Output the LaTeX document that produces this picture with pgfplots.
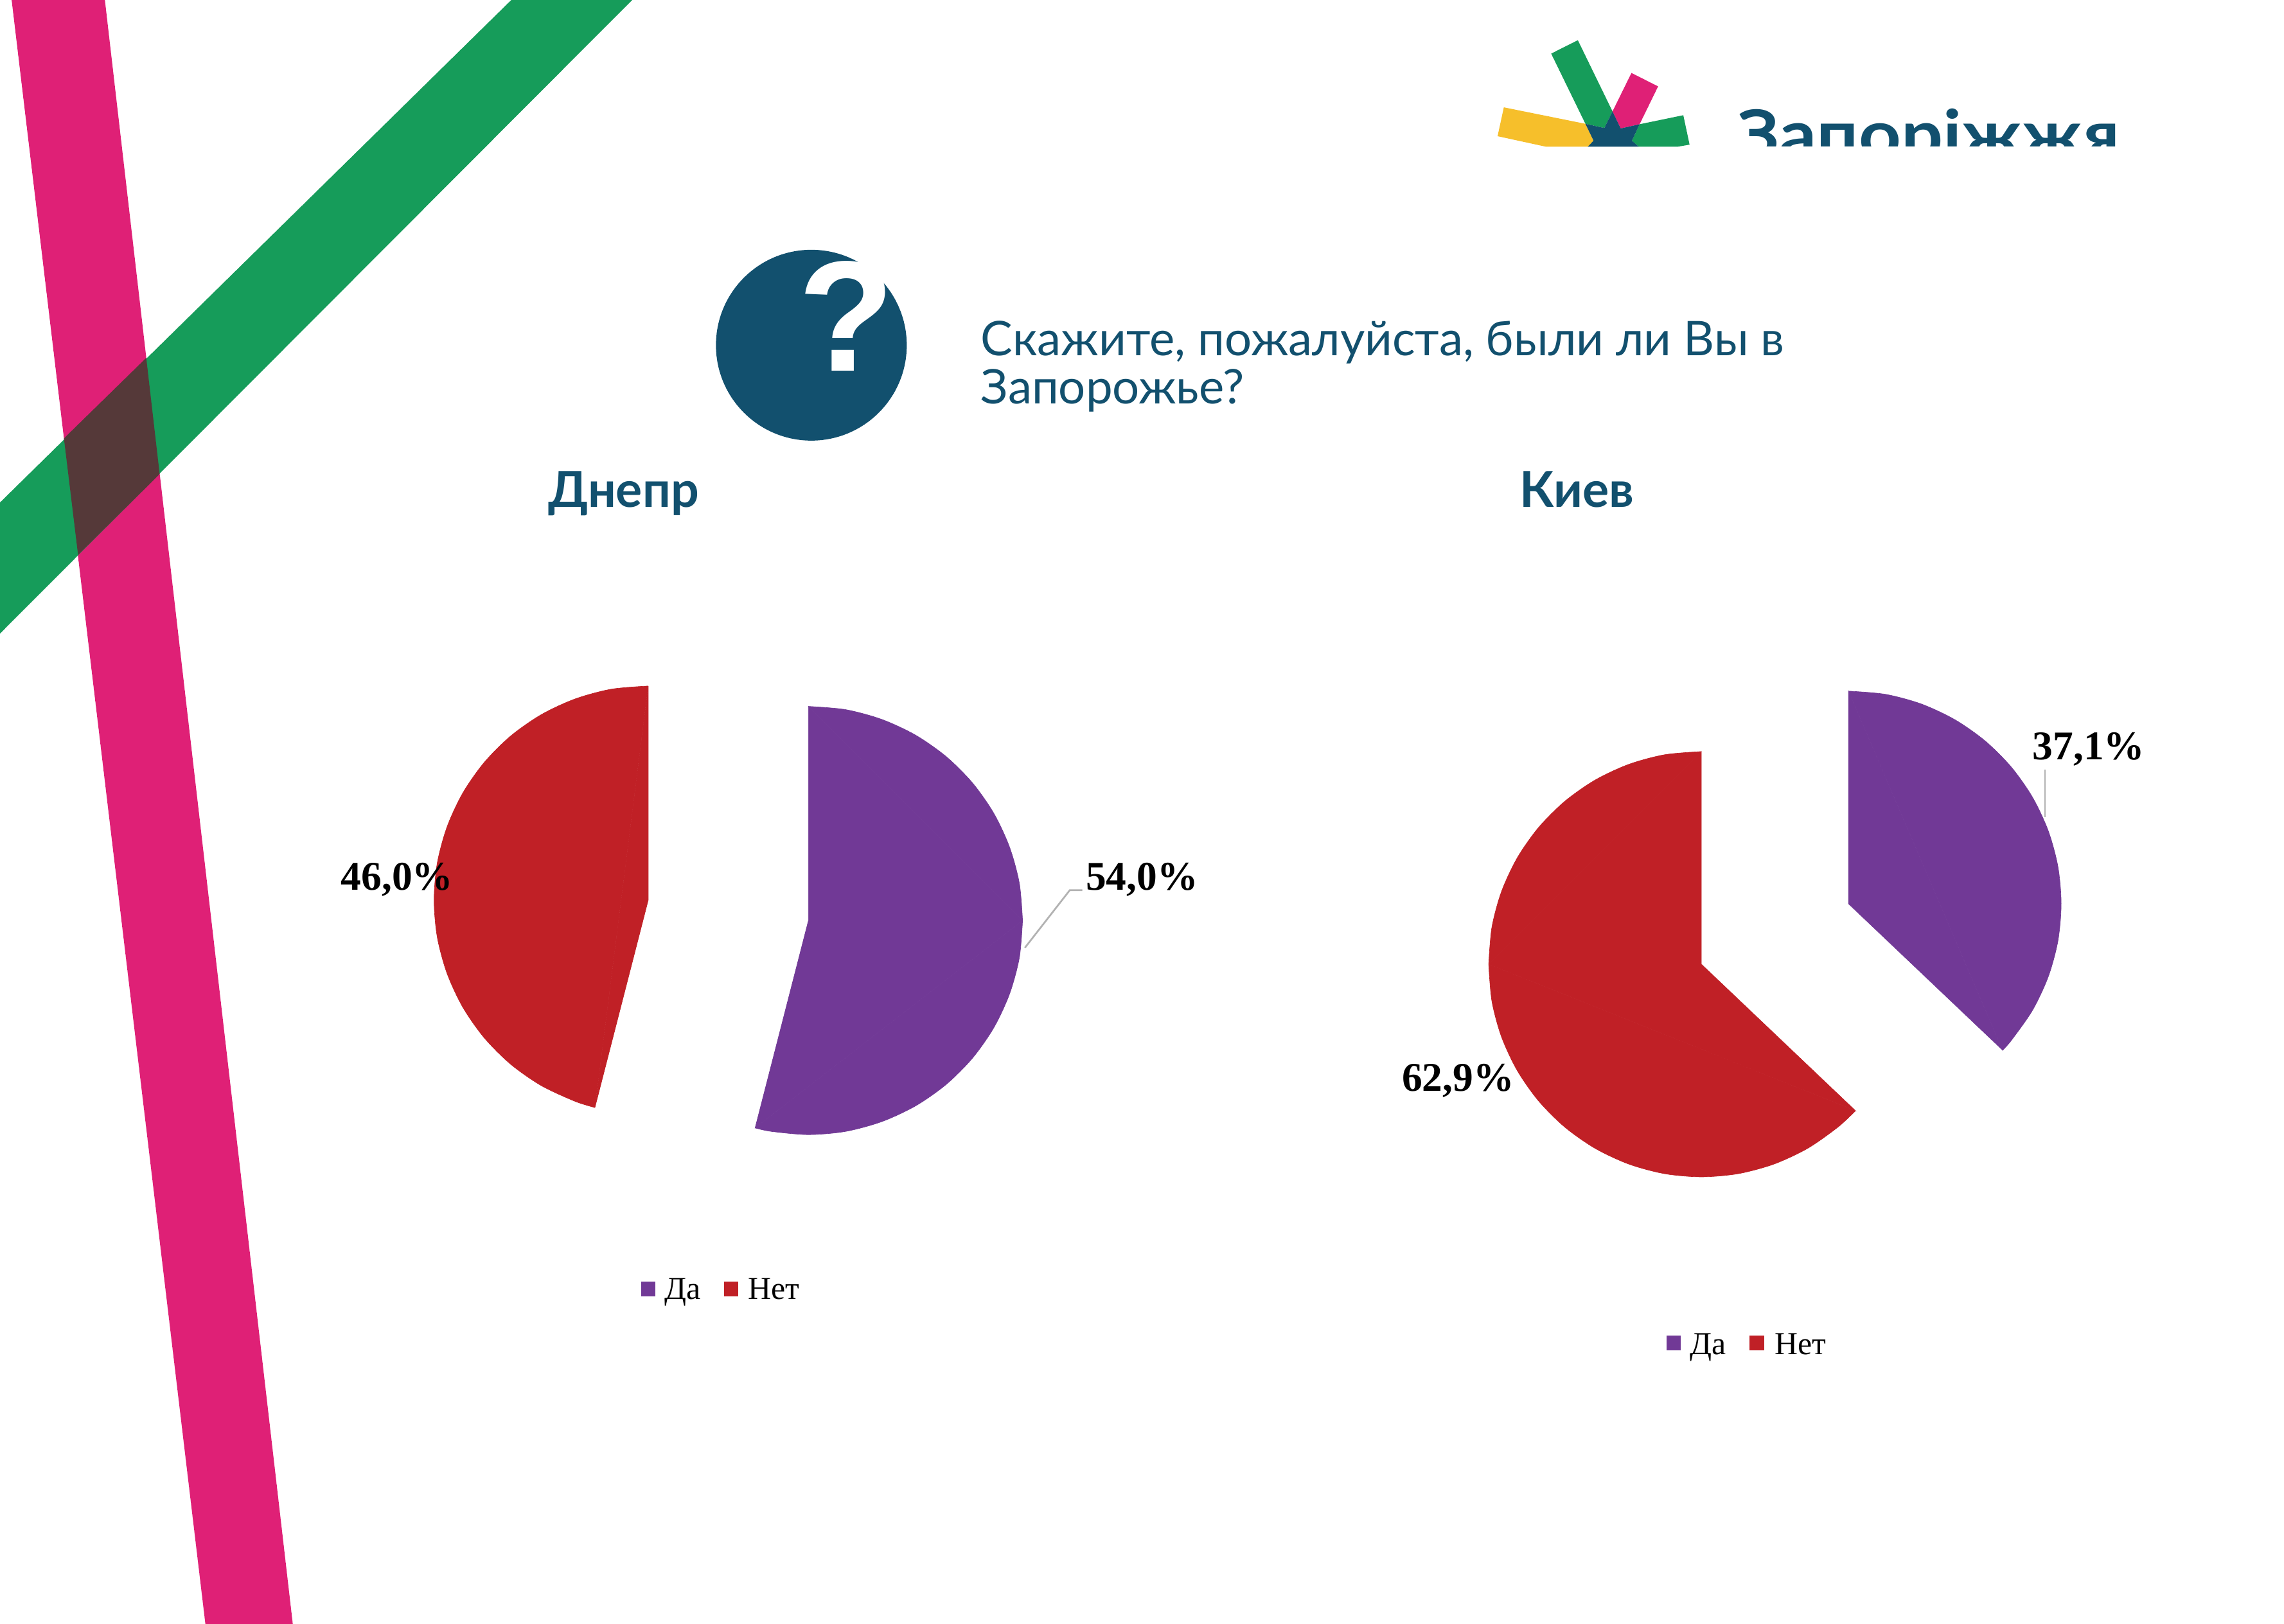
\documentclass[border=0pt]{standalone}
\usepackage{pgfplots}
\pgfplotsset{compat=1.18}
\usepackage{fontspec}
\setmainfont{Lato}
\newfontfamily\chartfont{Liberation Serif}
\newfontfamily\markfont{Liberation Sans}

\definecolor{pinkband}{HTML}{DF2076}
\definecolor{greenband}{HTML}{169C5A}
\definecolor{overlapband}{HTML}{553939}
\definecolor{navy}{HTML}{12506E}
\definecolor{sunny}{HTML}{F6BF2B}
\definecolor{da}{HTML}{713996}
\definecolor{net}{HTML}{C02026}

\pgfplotsset{
  wedge/.style={fill=#1, draw=#1, line width=0.15pt},
  arc/.style={smooth, fill=#1, draw=#1, line width=0.15pt}}

\begin{document}
\begin{tikzpicture}
\begin{axis}[
    scale only axis, width=784pt, height=557.5pt,
    xmin=0, xmax=1568, ymin=0, ymax=1115, y dir=reverse,
    hide axis, clip=true]

  % page, keeps the picture at full size
  \addplot[fill=white, draw=none] coordinates {(0,0) (1568,0) (1568,1115) (0,1115)} --cycle;

  % background bands
  \addplot[fill=pinkband, draw=none] coordinates {(8,0) (72,0) (201,1115) (141,1115)} --cycle;
  \addplot[fill=greenband, draw=none] coordinates {(351,0) (434,0) (0,435) (0,345)} --cycle;
  \addplot[fill=overlapband, draw=none] coordinates {(100.4,245.7) (109.6,325.5) (53.6,381) (43.9,301)} --cycle;

  % logo
  \addplot[fill=greenband, draw=none] coordinates {(1083.2,27.6) (1064.9,36.8) (1088.4,85) (1101.4,87.9) (1107,76.5)} --cycle;
  \addplot[fill=pinkband, draw=none] coordinates {(1120,50.1) (1138.3,59.3) (1125.6,85.3) (1112.6,88.2) (1107,76.5)} --cycle;
  \addplot[fill=sunny, draw=none] coordinates {(1032.4,73.7) (1028.1,93.5) (1061.2,100.7) (1090,100.7) (1094,96.6) (1088.4,85)} --cycle;
  \addplot[fill=greenband, draw=none] coordinates {(1155.6,79.1) (1159.9,99.3) (1151.9,100.7) (1125,100.7) (1120.3,96.6) (1125.6,85.3)} --cycle;
  \addplot[fill=navy, draw=none] coordinates {(1107,76.5) (1112.6,88.2) (1125.6,85.3) (1120.3,96.6) (1125,100.7) (1090,100.7) (1094,96.6) (1088.4,85) (1101.4,87.9)} --cycle;
  \node[anchor=base west, inner sep=0pt, text=navy, font=\fontsize{23}{27}\selectfont\bfseries, xscale=1.1, transform shape] at (1192,108.5) {Запоріжжя};
  \addplot[fill=white, draw=none] coordinates {(1180,100.7) (1470,100.7) (1470,125) (1180,125)} --cycle;

  % question badge
  \node[circle, fill=navy, minimum size=65.5pt, inner sep=0pt] at (557,237) {};
  \node[anchor=base, text=white, inner sep=0pt, font=\markfont\fontsize{54}{60}\selectfont\bfseries] at (581,254.5) {?};

  % headings
  \node[anchor=base west, inner sep=0pt, text=navy, font=\fontsize{16.4}{20}\selectfont] at (673,244) {Скажите, пожалуйста, были ли Вы в};
  \node[anchor=base west, inner sep=0pt, text=navy, font=\fontsize{16.4}{20}\selectfont] at (673,277) {Запорожье?};
  \node[anchor=base west, inner sep=0pt, text=navy, font=\fontsize{17}{20}\selectfont\bfseries] at (376,348) {Днепр};
  \node[anchor=base west, inner sep=0pt, text=navy, font=\fontsize{17}{20}\selectfont\bfseries] at (1043,348) {Киев};

  % Днепр: Да 54,0 %
  \addplot[arc=da] coordinates {
    (555,485) (580.5,487.2) (605.3,493.9) (628.5,504.7) (649.5,519.4)
    (667.6,537.5) (682.3,558.5) (693.1,581.7) (699.8,606.5) (702,632)};
  \addplot[arc=da] coordinates {
    (702,632) (699.8,657.5) (693.1,682.3) (682.3,705.5) (667.6,726.5) (649.5,744.6)
    (628.5,759.3) (605.3,770.1) (580.5,776.8) (555,779) (529.5,776.8) (518.4,774.4)};
  \addplot[wedge=da] coordinates {(555,632) (555,485) (702,632) (518.4,774.4)} --cycle;
  % Днепр: Нет 46,0 %
  \addplot[arc=net] coordinates {
    (408.4,760.4) (394.7,756.1) (371.5,745.3) (350.5,730.6) (332.4,712.5)
    (317.7,691.5) (306.9,668.3) (300.2,643.5) (298,618) (300.2,592.5) (306.9,567.7)
    (317.7,544.5) (332.4,523.5) (350.5,505.4) (371.5,490.7) (394.7,479.9)
    (419.5,473.2) (445,471)};
  \addplot[wedge=net] coordinates {(445,618) (408.4,760.4) (445,471)} --cycle;

  % Киев: Да 37,1 %
  \addplot[arc=da] coordinates {
    (1269,474.5) (1294.4,476.7) (1318.9,483.3) (1342,494.1) (1362.8,508.7)
    (1380.8,526.7) (1395.4,547.5) (1406.2,570.6) (1412.8,595.1) (1415,620.5)
    (1412.8,645.9) (1406.2,670.4) (1395.4,693.5) (1380.8,714.3) (1374.8,721)};
  \addplot[wedge=da] coordinates {(1269,620.5) (1269,474.5) (1374.8,721)} --cycle;
  % Киев: Нет 62,9 %
  \addplot[arc=net] coordinates {
    (1273.8,762.6) (1261.8,773.8) (1241,788.4) (1217.9,799.2) (1193.4,805.8)
    (1168,808) (1142.6,805.8) (1118.1,799.2) (1095,788.4) (1074.2,773.8) (1056.2,755.8)
    (1041.6,735) (1030.8,711.9) (1024.2,687.4) (1022,662)};
  \addplot[arc=net] coordinates {
    (1022,662) (1024.2,636.6) (1030.8,612.1)
    (1041.6,589) (1056.2,568.2) (1074.2,550.2) (1095,535.6) (1118.1,524.8)
    (1142.6,518.2) (1168,516)};
  \addplot[wedge=net] coordinates {(1168,662) (1273.8,762.6) (1022,662) (1168,516)} --cycle;

  % leader lines
  \addplot[color=gray!60, line width=0.6pt] coordinates {(703.6,650.7) (734.4,611.2) (743,611.2)};
  \addplot[color=gray!60, line width=0.4pt] coordinates {(1403.8,528.4) (1403.8,561)};

  % value labels
  \node[anchor=base west, inner sep=0pt, font=\chartfont\fontsize{14}{16}\selectfont\bfseries] at (233.7,611) {46,0\%};
  \node[anchor=base west, inner sep=0pt, font=\chartfont\fontsize{14}{16}\selectfont\bfseries] at (745,611) {54,0\%};
  \node[anchor=base west, inner sep=0pt, font=\chartfont\fontsize{14}{16}\selectfont\bfseries] at (1395,521.6) {37,1\%};
  \node[anchor=base west, inner sep=0pt, font=\chartfont\fontsize{14}{16}\selectfont\bfseries] at (962,749) {62,9\%};

  % legends
  \addplot[only marks, mark=square*, mark size=2.3pt, color=da] coordinates {(445,885) (1149,922)};
  \addplot[only marks, mark=square*, mark size=2.3pt, color=net] coordinates {(502,885) (1206,922)};
  \node[anchor=base west, inner sep=0pt, font=\chartfont\fontsize{11}{13}\selectfont] at (456,892) {Да};
  \node[anchor=base west, inner sep=0pt, font=\chartfont\fontsize{11}{13}\selectfont] at (513,892) {Нет};
  \node[anchor=base west, inner sep=0pt, font=\chartfont\fontsize{11}{13}\selectfont] at (1160,930) {Да};
  \node[anchor=base west, inner sep=0pt, font=\chartfont\fontsize{11}{13}\selectfont] at (1218,930) {Нет};
\end{axis}
\end{tikzpicture}
\end{document}
